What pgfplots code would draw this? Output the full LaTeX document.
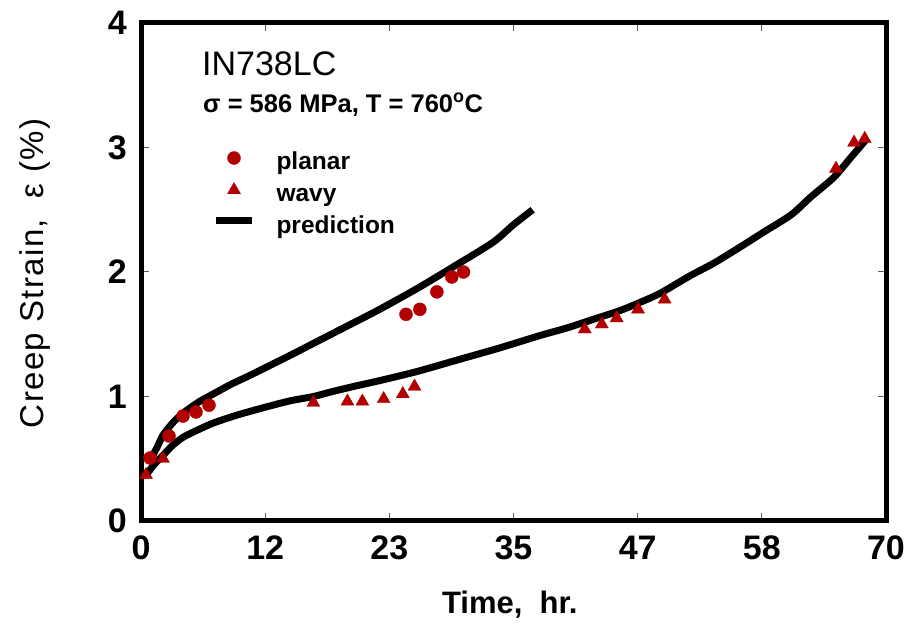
\documentclass[border=0pt]{standalone}
\usepackage{fontspec}
\setmainfont{Liberation Sans}
\usepackage{pgfplots}
\pgfplotsset{compat=1.18}
\definecolor{dred}{RGB}{178,0,0}
\pgfplotsset{
  markleg/.style={legend image code/.code={\path[draw=none,fill=none] (0pt,0pt) rectangle (36pt,16pt);\draw[##1] plot coordinates {(18pt,5pt)};}},
  lineleg/.style={legend image code/.code={\path[draw=none,fill=none] (0pt,0pt) rectangle (36pt,16pt);\draw[##1] (0pt,6pt) -- (36pt,6pt);}},
}

\begin{document}
\begin{tikzpicture}[x=1pt,y=1pt]
\useasboundingbox (0,0) rectangle (906,635);
\begin{axis}[
  at={(141pt,114pt)}, anchor=south west,
  scale only axis, width=745pt, height=498pt,
  xmin=0, xmax=70, ymin=0, ymax=4,
  axis line style={line width=5pt},
  xtick={0,11.6667,23.3333,35,46.6667,58.3333,70},
  xticklabels={0,12,23,35,47,58,70},
  ytick={0,1,2,3,4},
  tick align=inside,
  major tick length=8pt,
  tick style={line width=1pt, black!65},
  /pgf/number format/assume math mode=true,
  ticklabel style={font=\fontsize{34}{34}\selectfont\bfseries, inner sep=0pt},
  yticklabel style={xshift=-14pt},
  xticklabel style={yshift=-15pt},
  xlabel={Time,\ \ hr.},
  ylabel={Creep Strain,\ \ ε (\%)},
  xlabel style={font=\fontsize{31}{31}\selectfont\bfseries, at={(axis description cs:0.495,-0.169)}, anchor=center},
  ylabel style={font=\fontsize{33}{33}\selectfont\addfontfeature{LetterSpace=4}, at={(axis description cs:-0.142,0.497)}, anchor=center},
  legend style={at={(axis cs:6.72,3.004)}, anchor=north west, draw=none, fill=none,
    inner sep=0pt, outer sep=0pt, row sep=4pt,
    font=\fontsize{24.5}{24.5}\selectfont\bfseries,
    nodes={inner sep=0pt, text height=18pt, text depth=6pt}},
  legend cell align=left,
  legend columns=1,
  /tikz/every odd column/.append style={column sep=21pt},
]
\addplot[only marks, mark=*, mark size=6.5pt, color=dred, markleg]
coordinates {
(0.85,0.506) (2.63,0.683) (3.95,0.843) (5.17,0.876) (6.39,0.93)
(24.9,1.66) (26.2,1.70) (27.8,1.84) (29.2,1.96) (30.3,2.00)
};
\addlegendentry{planar}
\addplot[only marks, mark=triangle*, mark size=7.5pt, color=dred, markleg]
coordinates {
(0.47,0.37) (2.07,0.50) (16.2,0.95) (19.4,0.96) (20.8,0.96) (22.8,0.98)
(24.6,1.02) (25.7,1.08) (41.7,1.54) (43.3,1.58) (44.7,1.63) (46.7,1.70)
(49.2,1.78) (65.3,2.83) (67.0,3.04) (68.0,3.07)
};
\addlegendentry{wavy}
\addplot[black, line width=7pt, smooth, tension=0.45, lineleg]
coordinates {
(0.75,0.47) (1.5,0.59) (2.07,0.69) (3.0,0.79) (4.0,0.87) (5.5,0.96)
(7.0,1.03) (8.5,1.10) (10.0,1.16) (12.0,1.245) (14.0,1.33) (18.1,1.51) (22.2,1.69)
(26.0,1.87) (29.7,2.06) (33.1,2.24) (35.0,2.38) (36.8,2.50)
};
\addlegendentry{prediction}
\addplot[black, line width=7pt, smooth, tension=0.45, forget plot]
coordinates {
(0.5,0.37) (1.2,0.45) (2.1,0.53) (3.0,0.61) (4.0,0.675) (5.3,0.73)
(6.8,0.787) (9.0,0.85) (11.5,0.91) (14.0,0.965) (16.2,1.00) (18.0,1.04)
(20.2,1.085) (22.3,1.125) (25.9,1.20) (30.0,1.30) (33.7,1.39) (37.5,1.49)
(40.0,1.55) (42.5,1.62) (45.0,1.69) (47.0,1.76) (48.8,1.83) (51.6,1.97)
(53.8,2.07) (56.1,2.19) (58.5,2.32) (61.1,2.46) (62.9,2.60) (65.1,2.76)
(66.7,2.92) (68.1,3.06)
};
\node[anchor=base west, font=\fontsize{34}{34}\selectfont, inner sep=0pt] at (axis cs:5.73,3.58) {IN738LC};
\node[anchor=base west, font=\fontsize{25.5}{25.5}\selectfont\bfseries, inner sep=0pt] at (axis cs:5.83,3.285) {σ = 586 MPa, T = 760\textsuperscript{o}C};
\end{axis}
\end{tikzpicture}
\end{document}
